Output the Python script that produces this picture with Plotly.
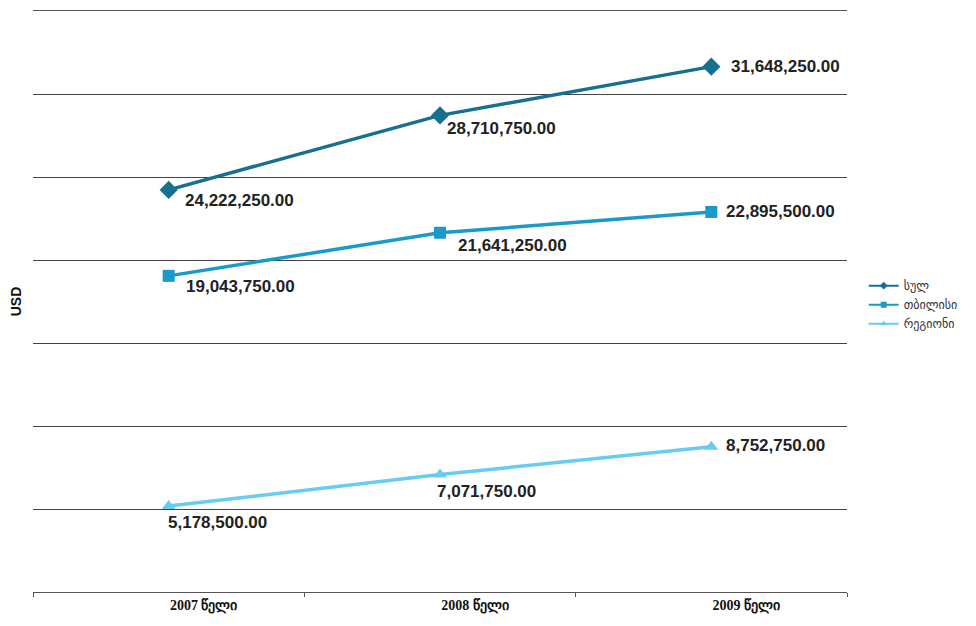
import plotly.graph_objects as go

years = ['2007 წელი', '2008 წელი', '2009 წელი']
total = [24222250.00, 28710750.00, 31648250.00]
tbilisi = [19043750.00, 21641250.00, 22895500.00]
regions = [5178500.00, 7071750.00, 8752750.00]

# (name, values, colour, marker, marker size, label offsets in px per point)
series = [
    ('სულ', total, '#16708f', 'diamond', 14, [(14, -11), (5, -13), (18, 0)]),
    ('თბილისი', tbilisi, '#1a9ac8', 'square', 12, [(15, -11), (16, -13), (13, 0)]),
    ('რეგიონი', regions, '#66ccf0', 'triangle-up', 12, [(-3, -16), (-5, -17), (13, 1)]),
]

fig = go.Figure()
for name, vals, color, sym, msize, offs in series:
    fig.add_trace(go.Scatter(
        x=years, y=vals, name=name, mode='lines+markers',
        line=dict(color=color, width=3.5),
        marker=dict(symbol=sym, size=msize, color=color),
        cliponaxis=False, showlegend=False,
    ))
    # small legend-only entry
    fig.add_trace(go.Scatter(
        x=[None], y=[None], name=name, mode='lines+markers',
        line=dict(color=color, width=2),
        marker=dict(symbol=sym, size=6, color=color),
    ))
    for yr, v, (dx, dy) in zip(years, vals, offs):
        fig.add_annotation(x=yr, y=v, text=f'<b>{v:,.2f}</b>', showarrow=False,
                           xanchor='left', yanchor='middle', xshift=dx, yshift=dy,
                           font=dict(family='Liberation Sans, Arial', size=17, color='#222222'))

# the page body has an 8px margin, so the figure is a bit smaller than the window
fig.update_layout(
    width=968, height=618,
    margin=dict(l=25, r=129, t=3, b=34),
    plot_bgcolor='white', paper_bgcolor='white',
    font=dict(family='DejaVu Sans', color='#222222'),
    legend=dict(xref='container', yref='container', x=0.884, y=0.52,
                yanchor='middle', xanchor='left',
                font=dict(size=12, color='#333333'), tracegroupgap=0,
                itemwidth=30),
    xaxis=dict(type='category', tickson='boundaries', ticks='outside', ticklen=4,
               tickcolor='#555555', showline=True, linecolor='#555555', linewidth=1,
               mirror=True, ticklabelshift=35, automargin=False,
               showgrid=False, tickfont=dict(family='Liberation Serif', size=14, color='#111111', weight='bold'),
               range=[-0.5, 2.5]),
    yaxis=dict(range=[0, 35000000], dtick=5000000, showticklabels=False, automargin=False,
               showgrid=True, gridcolor='#444444', gridwidth=1, zeroline=False,
               title=dict(text='<b>USD</b>', font=dict(family='Liberation Sans, Arial', size=14, color='#111111'),
                          standoff=8)),
)

fig.write_html('out.html')
